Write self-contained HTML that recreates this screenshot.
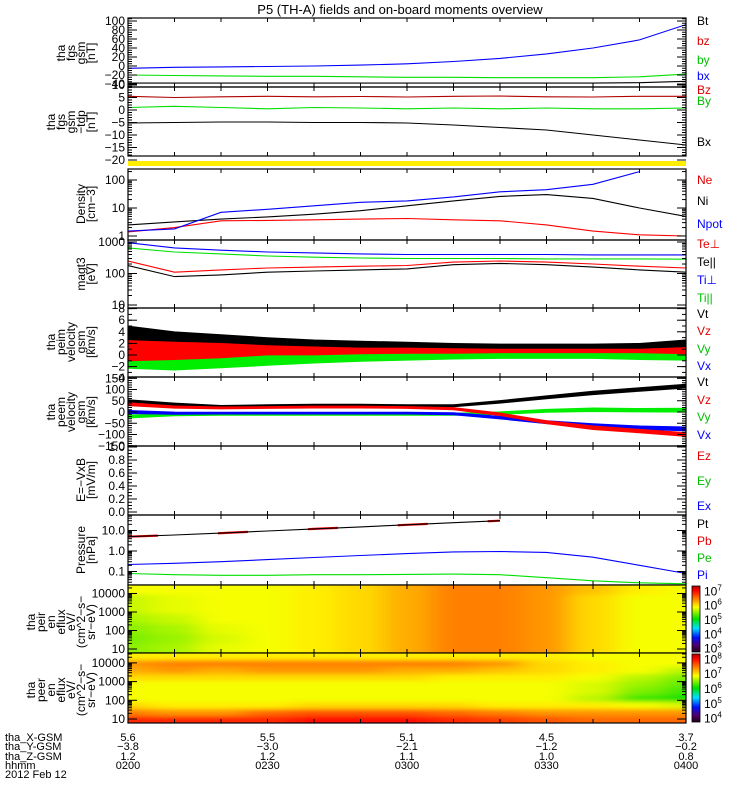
<!DOCTYPE html>
<html><head><meta charset="utf-8">
<style>
html,body{margin:0;padding:0;background:#fff;}
svg{display:block;font-family:"Liberation Sans",sans-serif;}
</style></head>
<body>
<svg id="chart" width="750" height="800" viewBox="0 0 750 800" xmlns="http://www.w3.org/2000/svg">
<defs>
<filter id="blur" x="-5%" y="-5%" width="110%" height="110%"><feGaussianBlur stdDeviation="13 2"/></filter>
<linearGradient id="cbar" x1="0" y1="1" x2="0" y2="0">
<stop offset="0" stop-color="#200018"/><stop offset="0.1" stop-color="#500070"/><stop offset="0.22" stop-color="#0010ff"/><stop offset="0.36" stop-color="#00e0ff"/><stop offset="0.5" stop-color="#00e000"/><stop offset="0.68" stop-color="#ffff00"/><stop offset="0.82" stop-color="#ff7000"/><stop offset="0.93" stop-color="#ff0000"/><stop offset="1" stop-color="#b00000"/>
</linearGradient>
</defs>
<rect x="0" y="0" width="750" height="800" fill="#fff"/>
<text x="400" y="14" text-anchor="middle" font-size="13">P5 (TH-A) fields and on-board moments overview</text>
<rect x="128" y="161" width="558" height="5" fill="#ffee00"/>
<g id="root"></g>
</svg>
<script>
// time samples (minutes after 02:00)
const times = [0,10,20,30,40,50,60,70,80,90,100,110,120];
// panel 1 fgs gsm (nT)
const fgsBlue = [-5,-3,-2,-1,0,2,5,10,17,27,40,58,92];
const fgsGreen = [-20,-21,-22,-23,-23,-24,-25,-25,-26,-26,-26,-24,-18];
const fgsBlack = [-38,-38,-38,-38,-38,-38,-38,-38,-38,-38,-38,-37,-34];
// panel 2 fgs gsm-tdp (nT)
const bzDp = [5.5,5,5.3,5.5,5.3,5.4,5.2,5.5,5.6,5.3,5.2,5.5,5.5];
const byDp = [1,1.5,1,0.5,1,0.8,0.5,0.8,0.5,0.8,0.5,0.5,0.8];
const bxDp = [-5.2,-5,-4.8,-4.8,-5,-5,-5.2,-6,-7,-8,-10,-12,-14];
// density (cm-3)
const dNe = [1.4,2,3.5,3.6,3.8,4,4.2,3.8,3.5,2.5,1.5,1.1,1.0];
const dNi = [2.5,3.2,4,4.8,6,8,12,18,26,30,22,10,5];
const dNpot = [1.5,1.8,7,9,12,16,18,25,38,45,70,200,null];
// temperatures (eV)
const teperp = [250,110,130,150,160,170,180,230,250,230,200,170,150];
const tepar = [180,80,90,110,120,130,140,190,210,190,160,130,110];
const tiperp = [950,650,550,480,450,420,400,400,400,400,390,390,390];
const tipar = [650,480,420,360,330,310,300,300,300,290,290,290,285];
// peim velocity bands (km/s): lo / hi
const imBlackLo = [0,0,0.3,0.5,0.5,0.5,0.7,0.7,0.8,0.8,0.8,0.8,0.6];
const imBlackHi = [5,4,3.5,3,2.6,2.4,2.2,2,1.9,1.9,1.9,2,2.6];
const imRedLo = [-1,-0.8,-0.5,0,0,0.2,0.3,0.3,0.4,0.4,0.4,0.4,0.2];
const imRedHi = [2.5,2.2,2,1.6,1.4,1.2,1.2,1.1,1,1,1,1,1.3];
const imGreenLo = [-2.3,-2.6,-2.2,-1.8,-1.4,-1.1,-0.9,-0.7,-0.6,-0.6,-0.6,-0.8,-0.9];
const imGreenHi = [0.8,0.6,0.5,0.4,0.3,0.3,0.3,0.3,0.3,0.3,0.3,0.3,0.3];
const imBlueLo = [-2,-1.5,-1,-0.5,-0.3,0,0,0,0,0,0,0,0];
const imBlueHi = [1.5,1,1,0.8,0.8,0.6,0.6,0.6,0.6,0.6,0.6,0.6,0.6];
// peem velocity (km/s)
const emBlack = [48,35,25,28,30,30,28,28,45,65,85,100,115];
const emRed = [35,22,18,20,22,22,20,15,-10,-45,-70,-85,-100];
const emBlue = [0,-5,-5,-5,-5,-5,-5,-8,-25,-45,-60,-70,-75];
const emGreen = [-20,-12,-10,-10,-10,-10,-10,-10,-5,5,10,8,8];
const emSpread = [14,10,9,9,9,9,9,10,12,14,16,16,18];
// pressure (nPa)
const pTot = [5,6,7.5,9.5,12,15,19,24,30,null,null,null,null];
const pIon = [0.22,0.25,0.3,0.38,0.48,0.6,0.75,0.9,0.95,0.85,0.5,0.2,0.08];
const pEle = [0.08,0.07,0.065,0.065,0.07,0.07,0.072,0.075,0.07,0.05,0.035,0.028,0.025];
// spectrograms: log10 flux, rows top -> bottom energy
const peirRows = [
[5.8,5.8,5.8,5.8,5.9,6.0,6.2,6.4,6.4,6.3,6.1,5.9,5.8],
[5.65,5.75,5.8,5.8,5.9,6.0,6.2,6.4,6.4,6.3,6.0,5.8,5.8],
[5.65,5.75,5.8,5.8,5.9,6.0,6.2,6.4,6.4,6.3,6.0,5.8,5.8],
[5.55,5.65,5.8,5.8,5.9,6.0,6.2,6.4,6.4,6.3,6.0,5.8,5.8],
[5.45,5.55,5.75,5.8,5.9,6.0,6.2,6.4,6.4,6.3,6.0,5.8,5.8],
[5.4,5.5,5.7,5.8,5.9,6.0,6.2,6.4,6.4,6.3,6.0,5.8,5.8],
[5.45,5.55,5.75,5.8,5.9,6.0,6.2,6.4,6.4,6.3,6.0,5.8,5.8]];
const peerRows = [
[6.9,6.9,6.9,6.9,6.9,6.9,6.9,6.9,6.9,6.9,6.8,6.8,6.8],
[7.3,7.4,7.4,7.4,7.4,7.4,7.4,7.4,7.3,7.0,6.9,6.8,6.8],
[7.2,7.3,7.2,7.3,7.3,7.3,7.2,7.2,7.1,7.0,6.9,6.8,6.6],
[7.0,7.0,7.0,7.0,7.0,7.0,7.0,6.9,6.9,6.9,6.8,6.6,6.4],
[6.8,6.8,6.8,6.8,6.8,6.8,6.8,6.8,6.8,6.8,6.7,6.5,6.3],
[6.8,6.8,6.8,6.8,6.8,6.8,6.8,6.8,6.8,6.8,6.7,6.4,6.2],
[6.8,6.8,6.8,6.8,6.8,6.8,6.8,6.8,6.8,6.8,6.6,6.2,6.0],
[7.0,6.9,6.9,6.9,7.0,7.0,7.0,7.0,6.9,6.9,6.9,6.8,6.7],
[7.4,7.3,7.3,7.5,7.6,7.6,7.6,7.5,7.4,7.3,7.3,7.3,7.3],
[7.8,7.8,7.8,7.8,7.9,7.9,7.9,7.8,7.7,7.6,7.5,7.5,7.5]];
// bottom axis labels
const hhmm = ["0200","0230","0300","0330","0400"];
const xGsm = ["5.6","5.5","5.1","4.5","3.7"];
const yGsm = ["\u22123.8","\u22123.0","\u22122.1","\u22121.2","\u22120.2"];
const zGsm = ["1.2","1.2","1.1","1.0","0.8"];

const NS="http://www.w3.org/2000/svg";
const root=document.getElementById('root');
const X0=128,X1=686;
function xs(t){return X0+t*(X1-X0)/120;}
function mk(tag,attrs,parent){const e=document.createElementNS(NS,tag);for(const k in attrs)e.setAttribute(k,attrs[k]);(parent||root).appendChild(e);return e;}
function txt(x,y,s,attrs,parent){const e=mk('text',Object.assign({x:x,y:y,'font-size':12},attrs||{}),parent);e.textContent=s;return e;}
let clipId=0;
function clipGroup(top,bot){clipId++;const cp=mk('clipPath',{id:'cp'+clipId});mk('rect',{x:X0,y:top,width:X1-X0,height:bot-top},cp);return mk('g',{'clip-path':'url(#cp'+clipId+')'});}
function pathD(vals,ys){let d='';let pen=false;vals.forEach((v,i)=>{if(v===null){pen=false;return;}d+=(pen?'L':'M')+xs(times[i]).toFixed(1)+' '+ys(v).toFixed(1);pen=true;});return d;}
function line(vals,ys,color,g,name,extra){const p=mk('path',Object.assign({d:pathD(vals,ys),fill:'none',stroke:color,'stroke-width':1.1},extra||{}),g);}
function band(lo,hi,ys,color,g,name){let d='M';times.forEach((t,i)=>{d+=xs(t).toFixed(1)+' '+ys(hi[i]).toFixed(1)+' L';});for(let i=times.length-1;i>=0;i--){d+=xs(times[i]).toFixed(1)+' '+ys(lo[i]).toFixed(1)+(i>0?' L':' Z');}const p=mk('path',{d:d,fill:color,stroke:color,'stroke-width':0.8},g);}
function frame(top,bot,name){const r=mk('rect',{x:X0,y:top,width:X1-X0,height:bot-top,fill:'none',stroke:'#000','stroke-width':1.2});
 for(let t=10;t<120;t+=10){mk('line',{x1:xs(t),x2:xs(t),y1:top,y2:top+4,stroke:'#000'});mk('line',{x1:xs(t),x2:xs(t),y1:bot,y2:bot-4,stroke:'#000'});}}
function ytick(y,len){mk('line',{x1:X0,x2:X0+len,y1:y,y2:y,stroke:'#000'});mk('line',{x1:X1,x2:X1-len,y1:y,y2:y,stroke:'#000'});}
function ylabel(y,s){const e=txt(125,y+4,s,{'text-anchor':'end'});}
function ytitle(lines,mid,name){const g=mk('g',{});const n=lines.length;lines.forEach((s,i)=>{const x=95-(n-1-i)*10;txt(0,0,s,{'text-anchor':'middle',transform:'translate('+x+','+mid+') rotate(-90)'},g);});}
function rlabels(items){items.forEach(it=>{const e=txt(697,it[2],it[0],{fill:it[1]});});}
function linTicks(top,bot,ys,majors,minorStep,vmin,vmax){for(let v=vmin;v<=vmax+1e-9;v+=minorStep){const y=ys(v);if(y>=top&&y<=bot)ytick(y,4);}majors.forEach(m=>{ytick(ys(m[0]),9);ylabel(ys(m[0]),m[1]);});}
function logTicks(top,bot,ys,d0,d1,labels){for(let d=d0;d<=d1;d++){for(let k=1;k<10;k++){const v=k*Math.pow(10,d);const y=ys(v);if(y>=top&&y<=bot)ytick(y,k===1?9:4);}}labels.forEach(l=>ylabel(ys(l[0]),l[1]));}

// Panel 1
{const top=18,bot=87,ys=v=>21+(100-v)*63/140;const g=clipGroup(top,bot);
 line(fgsBlack,ys,'#000',g,'bt-line');line(fgsGreen,ys,'#00e000',g,'by-line');line(fgsBlue,ys,'#0000ff',g,'bx-line');
 linTicks(top,bot,ys,[[100,'100'],[80,'80'],[60,'60'],[40,'40'],[20,'20'],[0,'0'],[-20,'\u221220'],[-40,'\u221240']],5,-45,105);
 frame(top,bot,'fgs-panel');ytitle(['tha','fgs','gsm','[nT]'],53,'fgs-y-title');
 rlabels([['Bt','#000',25],['bz','#e00000',45],['by','#00c000',64],['bx','#0000ff',80]]);}
// Panel 2
{const top=87,bot=156,ys=v=>110-v*2.5;const g=clipGroup(top,bot);
 line(bxDp,ys,'#000',g,'bx-dp-line');line(byDp,ys,'#00e000',g,'by-dp-line');line(bzDp,ys,'#b00000',g,'bz-dp-line');
 linTicks(top,bot,ys,[[10,'10'],[5,'5'],[0,'0'],[-5,'\u22125'],[-10,'\u221210'],[-15,'\u221215'],[-20,'\u221220']],1,-19,10);
 frame(top,bot,'fgs-dp-panel');ytitle(['tha','fgs','gsm','\u2212tdp','[nT]'],122,'fgs-dp-y-title');
 rlabels([['Bz','#e00000',94],['By','#00c000',105],['Bx','#000',146]]);}
// Density
{const top=169,bot=240,ys=v=>236-Math.log10(v)*28;const g=clipGroup(top,bot);
 line(dNi,ys,'#000',g,'ni-line');line(dNe,ys,'#ff0000',g,'ne-line');line(dNpot,ys,'#0000ff',g,'npot-line');
 logTicks(top,bot,ys,0,2,[[1,'1'],[10,'10'],[100,'100']]);
 frame(top,bot,'density-panel');ytitle(['Density','[cm\u22123]'],204,'density-y-title');
 rlabels([['Ne','#e00000',184],['Ni','#000',205],['Npot','#0000ff',228]]);}
// Temperature
{const top=240,bot=308,ys=v=>305-(Math.log10(v)-1)*31.5;const g=clipGroup(top,bot);
 line(tiperp,ys,'#0000ff',g,'ti-perp-line');line(tipar,ys,'#00e000',g,'ti-par-line');line(teperp,ys,'#ff0000',g,'te-perp-line');line(tepar,ys,'#000',g,'te-par-line');
 logTicks(top,bot,ys,1,3,[[10,'10'],[100,'100'],[1000,'1000']]);
 frame(top,bot,'temperature-panel');ytitle(['magt3','[eV]'],274,'temperature-y-title');
 rlabels([['Te\u22a5','#e00000',248],['Te||','#000',266],['Ti\u22a5','#0000ff',284],['Ti||','#00c000',302]]);}
// peim velocity
{const top=308,bot=377,ys=v=>355-v*5.8;const g=clipGroup(top,bot);
 band(imBlackLo,imBlackHi,ys,'#000',g,'vt-band');band(imBlueLo,imBlueHi,ys,'#0000ff',g,'vx-band');band(imGreenLo,imGreenHi,ys,'#00ee00',g,'vy-band');band(imRedLo,imRedHi,ys,'#ff0000',g,'vz-band');
 linTicks(top,bot,ys,[[8,'8'],[6,'6'],[4,'4'],[2,'2'],[0,'0'],[-2,'\u22122'],[-4,'\u22124']],1,-4,8);
 frame(top,bot,'peim-velocity-panel');ytitle(['tha','peim','velocity','gsm','[km/s]'],342,'peim-y-title');
 rlabels([['Vt','#000',318],['Vz','#e00000',335],['Vy','#00c000',353],['Vx','#0000ff',370]]);}
// peem velocity
{const top=377,bot=446,ys=v=>412-v*0.225;const g=clipGroup(top,bot);
 const lo=a=>a.map((v,i)=>v-emSpread[i]/2),hi=a=>a.map((v,i)=>v+emSpread[i]/2);
 band(lo(emBlack),hi(emBlack),ys,'#000',g,'vt-band');band(lo(emGreen),hi(emGreen),ys,'#00ee00',g,'vy-band');band(lo(emBlue),hi(emBlue),ys,'#0000ff',g,'vx-band');band(lo(emRed),hi(emRed),ys,'#ff0000',g,'vz-band');
 linTicks(top,bot,ys,[[150,'150'],[100,'100'],[50,'50'],[0,'0'],[-50,'\u221250'],[-100,'\u2212100'],[-150,'\u2212150']],10,-150,150);
 frame(top,bot,'peem-velocity-panel');ytitle(['tha','peem','velocity','gsm','[km/s]'],412,'peem-y-title');
 rlabels([['Vt','#000',386],['Vz','#e00000',404],['Vy','#00c000',421],['Vx','#0000ff',439]]);}
// E field
{const top=446,bot=515,ys=v=>512-v*65;
 linTicks(top,bot,ys,[[1,'1.0'],[0.8,'0.8'],[0.6,'0.6'],[0.4,'0.4'],[0.2,'0.2'],[0,'0.0']],0.05,0,1);
 frame(top,bot,'efield-panel');ytitle(['E=\u2212VxB','[mV/m]'],480,'efield-y-title');
 rlabels([['Ez','#e00000',460],['Ey','#00c000',485],['Ex','#0000ff',510]]);}
// Pressure
{const top=515,bot=585,ys=v=>551-Math.log10(v)*20.5;const g=clipGroup(top,bot);
 line(pEle,ys,'#00e000',g,'pe-line');line(pIon,ys,'#0000ff',g,'pi-line');
 line(pTot,ys,'#ff0000',g,'pb-line',{'stroke-width':2.2,'stroke-dasharray':'30 60'});
 line(pTot,ys,'#000',g,'pt-line');
 logTicks(top,bot,ys,-2,1,[[0.1,'0.1'],[1,'1.0'],[10,'10.0']]);
 frame(top,bot,'pressure-panel');ytitle(['Pressure','[nPa]'],550,'pressure-y-title');
 rlabels([['Pt','#000',528],['Pb','#e00000',545],['Pe','#00c000',562],['Pi','#0000ff',579]]);}
// colormap
const cstops=[[0,[32,0,24]],[0.1,[80,0,112]],[0.22,[0,16,255]],[0.36,[0,224,255]],[0.5,[0,224,0]],[0.68,[255,255,0]],[0.82,[255,112,0]],[0.93,[255,0,0]],[1,[176,0,0]]];
function cmap(f){f=Math.max(0,Math.min(1,f));for(let i=1;i<cstops.length;i++){if(f<=cstops[i][0]){const a=cstops[i-1],b=cstops[i],u=(f-a[0])/(b[0]-a[0]);const c=a[1].map((v,k)=>Math.round(v+(b[1][k]-v)*u));return 'rgb('+c.join(',')+')';}}return 'rgb(176,0,0)';}
function spec(rows,top,bot,vmin,vmax,name,yE,ticks,cbLabels){
 const g=clipGroup(top,bot);
 const inner=mk('g',{filter:'url(#blur)'},g);const nr=rows.length,rh=(bot-top)/nr,cw=(X1-X0)/12;
 rows.forEach((row,r)=>row.forEach((v,c)=>{let x=xs(times[c])-cw/2,w=cw;if(c===0){x-=40;w+=40;}if(c===row.length-1)w+=40;let y=top+r*rh,h=rh;if(r===0){y-=12;h+=12;}if(r===nr-1)h+=12;
  const cell=mk('rect',{x:x.toFixed(1),y:y.toFixed(1),width:(w+0.6).toFixed(1),height:(h+0.6).toFixed(1),fill:cmap((v-vmin)/(vmax-vmin))},inner);}));
 for(let d=1;d<=4;d++)for(let k=1;k<10;k++){const y=yE(k*Math.pow(10,d));if(y>top&&y<bot){const len=k===1?9:4;mk('rect',{x:X0,y:y-0.5,width:len,height:1,fill:'#000'});mk('rect',{x:X1-len,y:y-0.5,width:len,height:1,fill:'#000'});}}
 ticks.forEach(t=>ylabel(yE(t[0]),t[1]));
 frame(top,bot,name+'-frame');
 const cb=mk('rect',{x:692,y:top+1,width:8,height:bot-top-2,fill:'url(#cbar)',stroke:'#000','stroke-width':0.8});
 cbLabels.forEach(l=>{const y=top+1+(bot-top-2)*(1-(l-vmin)/(vmax-vmin));const e=txt(704,y+5,'10',{'font-size':12});const s=mk('tspan',{dy:-5,'font-size':8},e);s.textContent=String(l);});
}
spec(peirRows,585,653,2.7,7.3,'peir-spectrogram',v=>649-(Math.log10(v)-1)*18.5,[[10,'10'],[100,'100'],[1000,'1000'],[10000,'10000']],[3,4,5,6,7]);
ytitle(['tha','peir','en','eflux','eV/','(cm^2\u2212s\u2212','sr\u2212eV)'],622,'peir-y-title');
spec(peerRows,653,723,3.7,8.3,'peer-spectrogram',v=>719-(Math.log10(v)-1)*18.7,[[10,'10'],[100,'100'],[1000,'1000'],[10000,'10000']],[4,5,6,7,8]);
ytitle(['tha','peer','en','eflux','eV/','(cm^2\u2212s\u2212','sr\u2212eV)'],690,'peer-y-title');
// bottom labels
const rowsB=[['tha_X-GSM',xGsm,741],['tha_Y-GSM',yGsm,750],['tha_Z-GSM',zGsm,760],['hhmm',hhmm,769]];
rowsB.forEach(rw=>{const e=txt(5,rw[2],rw[0],{'font-size':11});
 rw[1].forEach((s,i)=>{const t=txt(xs(i*30),rw[2],s,{'font-size':11,'text-anchor':'middle'});});});
{const e=txt(5,778,'2012 Feb 12',{'font-size':11});}
</script>
</body></html>
